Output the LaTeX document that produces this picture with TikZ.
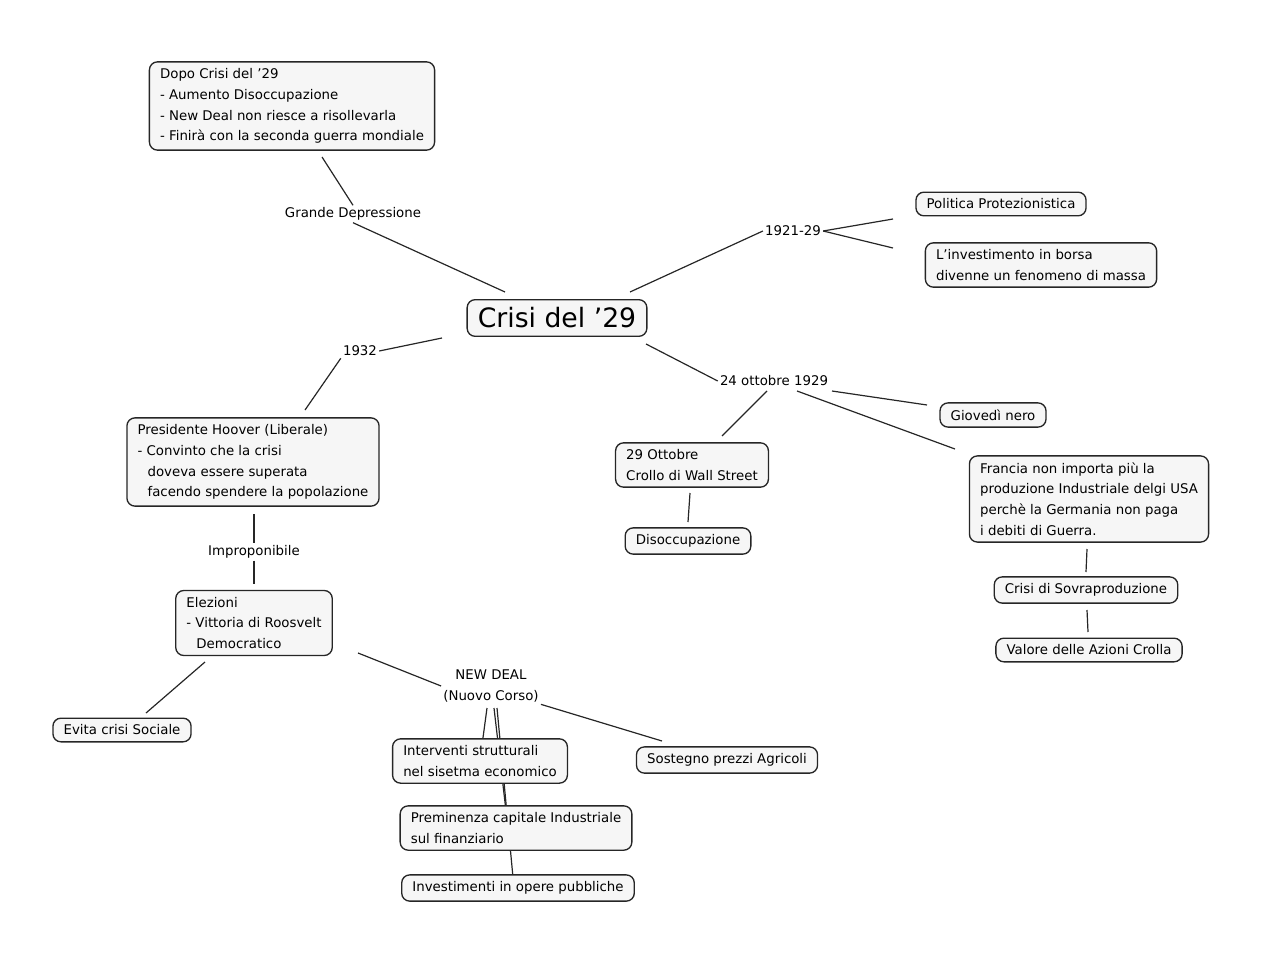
\documentclass[tikz,border=0pt]{standalone}
\usepackage{fontspec}
\setmainfont{DejaVu Sans}
\begin{document}
\begin{tikzpicture}[x=0.75pt,y=-0.75pt,
 box/.style={draw=black!85,line width=1pt,rounded corners=6pt,fill=cyan!4!gray!8,align=left,inner xsep=8pt,inner ysep=5pt,font=\fontsize{10}{15.5}\selectfont},
 lab/.style={fill=white,inner sep=1.5pt,align=center,font=\fontsize{10}{15.5}\selectfont},
 ln/.style={line width=0.9pt,black!85}]
\useasboundingbox (0,0) rectangle (1280,963);
\def\ind{\hspace*{0.75em}}
% labels
\node[lab] (gd) at (353,214) {Grande Depressione};
\node[lab] (y21) at (793,231) {1921-29};
\node[lab] (y32) at (360,351) {1932};
\node[lab] (imp) at (254,552) {Improponibile};
\node[lab] (nd) at (491,686) {NEW DEAL\\(Nuovo Corso)};
\node[lab] (o24) at (774,381) {24 ottobre 1929};
% boxes coordinates for edges
\coordinate (cA) at (505,292);
\coordinate (cB) at (630,292);
\coordinate (cC) at (442,338);
\coordinate (cD) at (646,344);
% edges
\draw[ln] (322,157) -- (gd.north);
\draw[ln] (gd.south) -- (cA);
\draw[ln] (cB) -- (y21.west);
\draw[ln] (y21.east) -- (893,219);
\draw[ln] (y21.east) -- (893,248);
\draw[ln] (cC) -- (y32.east);
\draw[ln] (y32.south west) -- (305,410);
\draw[ln] (254,514) -- (imp.north);
\draw[ln] (imp.south) -- (254,584);
\draw[ln] (205,662) -- (146,713);
\draw[ln] (358,653) -- (nd.west);
\draw[ln] (nd.south east) -- (662,741);
\draw[ln] (487,708) -- (480,760);
\draw[ln] (494,708) -- (508,828);
\draw[ln] (497,708) -- (514,888);
\draw[ln] (cD) -- (o24.west);
\draw[ln] (767,391) -- (722,436);
\draw[ln] (832,391) -- (927,405);
\draw[ln] (797,391) -- (955,449);
\draw[ln] (690,493) -- (688,522);
\draw[ln] (1087,549) -- (1086,572);
\draw[ln] (1087,610) -- (1088,632);
% boxes
\node[box] (dopo) at (292,106) {Dopo Crisi del '29\\- Aumento Disoccupazione\\- New Deal non riesce a risollevarla\\- Finirà con la seconda guerra mondiale};
\node[box,font=\fontsize{20}{24}\selectfont,inner ysep=6pt] (crisi) at (557,318) {Crisi del '29};
\node[box] (pol) at (1001,204) {Politica Protezionistica};
\node[box] (inv) at (1041,265) {L’investimento in borsa\\divenne un fenomeno di massa};
\node[box] (hoo) at (253,462) {Presidente Hoover (Liberale)\\- Convinto che la crisi\\\ind doveva essere superata\\\ind facendo spendere la popolazione};
\node[box] (ele) at (254,623) {Elezioni\\- Vittoria di Roosvelt\\\ind Democratico};
\node[box] (evi) at (122,730) {Evita crisi Sociale};
\node[box] (int) at (480,761) {Interventi strutturali\\nel sisetma economico};
\node[box] (sos) at (727,760) {Sostegno prezzi Agricoli};
\node[box] (pre) at (516,828) {Preminenza capitale Industriale\\sul finanziario};
\node[box] (ope) at (518,888) {Investimenti in opere pubbliche};
\node[box] (o29) at (692,465) {29 Ottobre\\Crollo di Wall Street};
\node[box] (dis) at (688,541) {Disoccupazione};
\node[box] (gio) at (993,415) {Giovedì nero};
\node[box] (fra) at (1089,499) {Francia non importa più la\\produzione Industriale delgi USA\\perchè la Germania non paga\\i debiti di Guerra.};
\node[box] (sov) at (1086,590) {Crisi di Sovraproduzione};
\node[box] (val) at (1089,650) {Valore delle Azioni Crolla};
\end{tikzpicture}
\end{document}
